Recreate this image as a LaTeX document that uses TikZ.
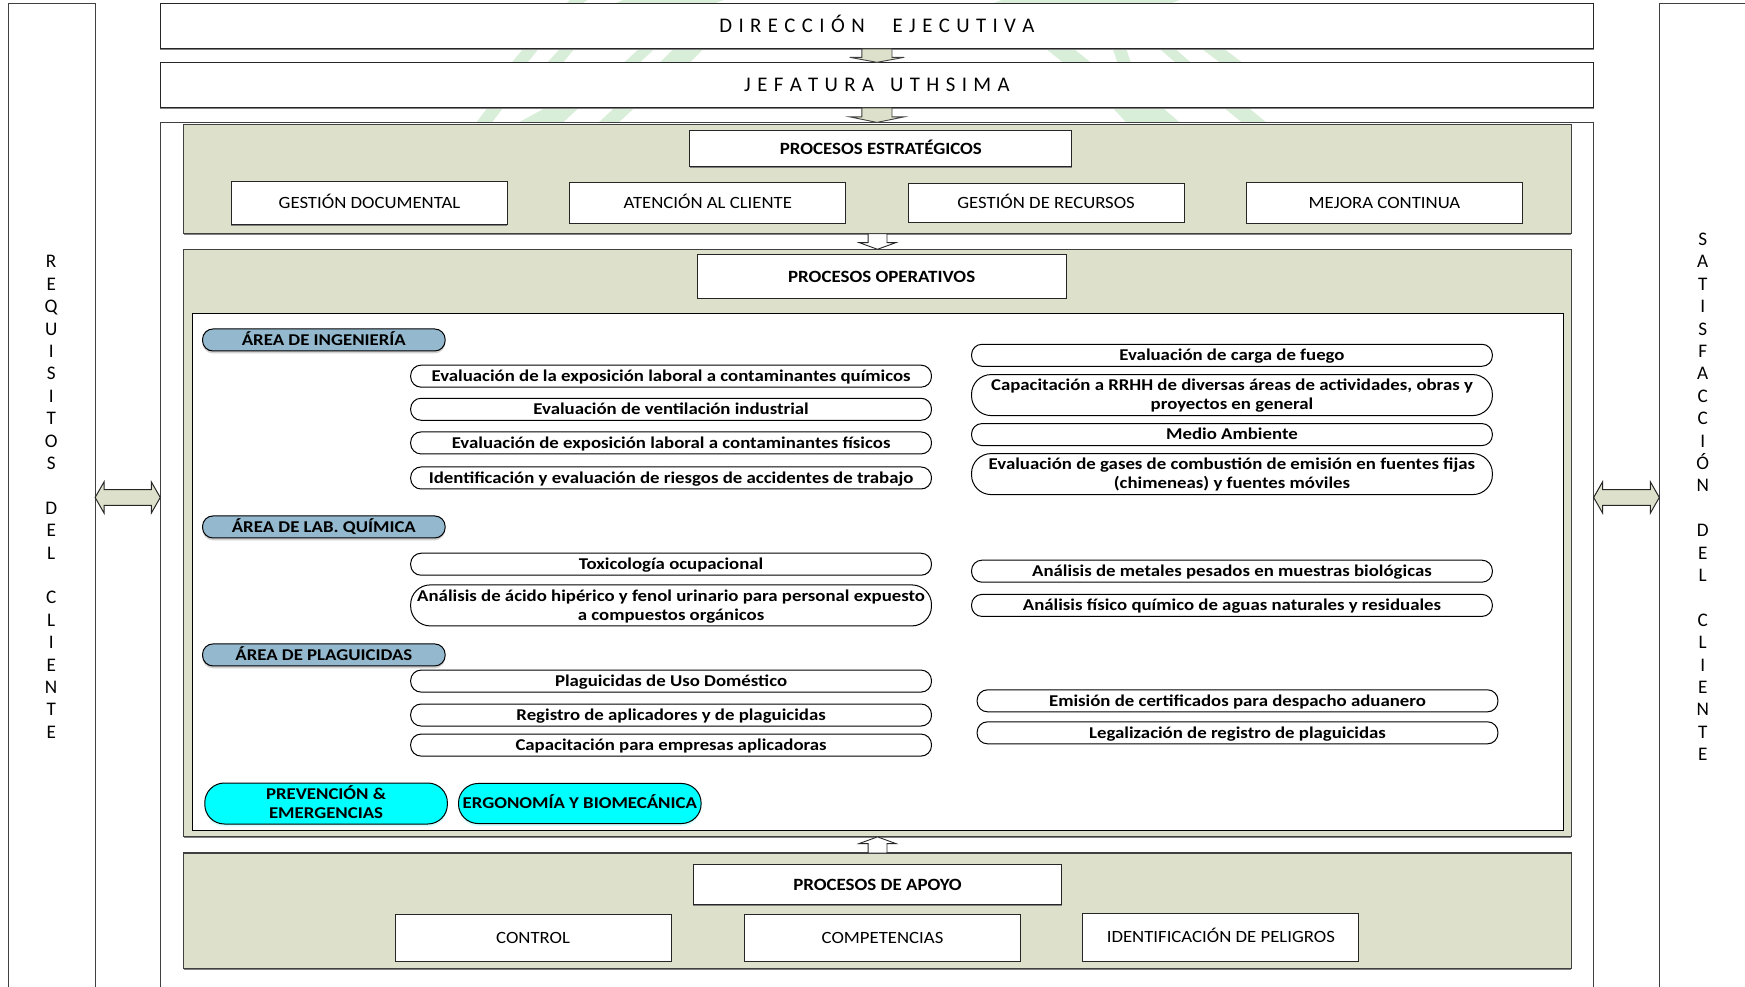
\documentclass[tikz,border=0pt]{standalone}
\usepackage{fontspec}
\setmainfont{Carlito}
\newfontfamily\spacedfont{Carlito}
\newfontfamily\plainfont[FakeStretch=1.09]{Carlito}
\newfontfamily\titlefont[FakeStretch=1.10]{Carlito}
\newfontfamily\pillfont[FakeStretch=1.14]{Carlito}
\usetikzlibrary{calc,shadows}
\definecolor{band}{HTML}{DDE1CB}
\definecolor{areablue}{HTML}{94B9CE}
\definecolor{wm}{HTML}{D9EED9}
\definecolor{aqua}{HTML}{00FFFF}
\newcommand{\ls}{\kern3.2pt\relax}
\newcommand{\place}[7]{\node[#2,minimum width={(#5-#3)*0.5565pt},minimum height={(#6-#4)*0.5565pt}] (#1) at ({(#3+#5)/2},{(#4+#6)/2}) {\rule{0pt}{\dimexpr.7\baselineskip+1.5pt\relax}#7\strut};}
\newcommand{\blockdown}[6]{%
 \coordinate (t) at (#1.south); \coordinate (b) at (#1.south |- #2.north);
 \draw[#6] ($(t)+(-#3,0)$) -- ($(b)+(-#3,-#5)$) -- ($(b)+(-#4,-#5)$) -- (b) -- ($(b)+(#4,-#5)$) -- ($(b)+(#3,-#5)$) -- ($(t)+(#3,0)$) -- cycle;}
\newcommand{\blockup}[6]{%
 \coordinate (t) at (#1.north); \coordinate (b) at (#1.north |- #2.south);
 \draw[#6] ($(t)+(-#3,0)$) -- ($(b)+(-#3,#5)$) -- ($(b)+(-#4,#5)$) -- (b) -- ($(b)+(#4,#5)$) -- ($(b)+(#3,#5)$) -- ($(t)+(#3,0)$) -- cycle;}
\newcommand{\blockboth}[2]{%
 \coordinate (l) at (#1.east |- 0,447); \coordinate (r) at (#2.west |- 0,447);
 \draw[bothways] (l) -- ++(8,-14) -- ++(0,7) -- ($(r)+(-8,-7)$) -- ++(0,-7) -- (r) -- ++(-8,14) -- ++(0,-7) -- ($(l)+(8,7)$) -- ++(0,7) -- cycle;}
\tikzset{
 boxbase/.style={rectangle,inner sep=0pt,outer sep=0pt,align=center,text=black},
 plainbox/.style={boxbase,draw=black!85,line width=0.5pt,fill=white,font=\fontsize{8.6}{10.4}\plainfont,
   general shadow={shadow xshift=0pt,shadow yshift=-0.4pt,fill=black!50}},
 titlebox/.style={plainbox,font=\fontsize{8.6}{10.4}\titlefont\bfseries},
 headbox/.style={plainbox,font=\fontsize{10.4}{12.5}\spacedfont},
 sidebox/.style={boxbase,draw=black!75,line width=0.55pt,fill=white},
 bandbox/.style={boxbase,draw=black!75,line width=0.55pt,fill=band,
   general shadow={shadow xshift=0pt,shadow yshift=-0.7pt,fill=black!50}},
 pill/.style={boxbase,draw=black,line width=0.5pt,fill=white,rounded corners=5.2pt,
   font=\fontsize{8.25}{9.5}\pillfont\bfseries},
 pilltall/.style={pill,rounded corners=9.8pt},
 areapill/.style={pill,fill=areablue,general shadow={shadow xshift=0pt,shadow yshift=-1.2pt,fill=black!18}},
 cyanpill/.style={pill,rounded corners=9.8pt,fill=aqua,general shadow={shadow xshift=0pt,shadow yshift=-1.2pt,fill=aqua!18}},
 thinarrow/.style={draw=black!75,line width=0.45pt,fill=band},
 openarrow/.style={draw=black!85,line width=0.45pt,fill=white},
 bothways/.style={draw=black!85,line width=0.5pt,fill=band},
 letters/.style={inner sep=0pt,align=center,font=\fontsize{9.6}{11.2}\selectfont},
}
\begin{document}
\begin{tikzpicture}[x=0.5565pt,y=-0.5565pt]
\useasboundingbox (0,0) rectangle (1568,886);
\fill[white] (0,0) rectangle (1568,886);
% faint watermark seen through the gaps
\fill[wm] (512,0) -- (528,0) -- (522,4) -- (508,4) -- cycle;
\fill[wm] (560,0) -- (650,0) -- (640,4) -- (550,4) -- cycle;
\fill[wm] (900,0) -- (1060,0) -- (1050,4) -- (890,4) -- cycle;
\fill[wm] (470,44) -- (484,44) -- (474,56) -- (460,56) -- cycle;
\fill[wm] (503,44) -- (516,44) -- (506,56) -- (492,56) -- cycle;
\fill[wm] (574,44) -- (588,44) -- (575,56) -- (561,56) -- cycle;
\fill[wm] (605,44) -- (632,44) -- (620,56) -- (593,56) -- cycle;
\fill[wm] (940,44) -- (965,44) -- (980,56) -- (955,56) -- cycle;
\fill[wm] (1000,44) -- (1012,44) -- (1016,56) -- (1004,56) -- cycle;
\fill[wm] (1042,44) -- (1056,44) -- (1070,56) -- (1056,56) -- cycle;
\fill[wm] (1080,44) -- (1100,44) -- (1116,56) -- (1096,56) -- cycle;
\fill[wm] (438,97) -- (452,97) -- (442,110) -- (428,110) -- cycle;
\fill[wm] (490,97) -- (520,97) -- (506,110) -- (466,110) -- cycle;
\fill[wm] (552,97) -- (570,97) -- (556,110) -- (538,110) -- cycle;
\fill[wm] (1000,97) -- (1045,97) -- (1060,110) -- (1012,110) -- cycle;
\fill[wm] (1100,97) -- (1122,97) -- (1138,110) -- (1116,110) -- cycle;
% frames
\place{leftside}{sidebox}{7.5}{3.5}{85.5}{900}{}
\place{rightside}{sidebox}{1491}{3.5}{1600}{900}{}
\place{outer}{sidebox}{144}{110}{1432}{900}{}
\place{direccion}{headbox}{144}{3.5}{1432}{44}{D\ls I\ls R\ls E\ls C\ls C\ls I\ls Ó\ls N\kern14pt E\ls J\ls E\ls C\ls U\ls T\ls I\ls V\ls A}
\place{jefatura}{headbox}{144}{56}{1432}{97}{J\ls E\ls F\ls A\ls T\ls U\ls R\ls A\kern8pt U\ls T\ls H\ls S\ls I\ls M\ls A}
% strategic
\place{estrat}{bandbox}{165}{112}{1412}{210}{}
\place{pe}{titlebox}{620}{117}{963}{150}{PROCESOS ESTRATÉGICOS}
\place{gdoc}{plainbox}{208}{163}{456}{202}{GESTIÓN DOCUMENTAL}
\place{aten}{plainbox}{512}{164}{760}{201}{ATENCIÓN AL CLIENTE}
\place{grec}{plainbox}{816}{165}{1064}{200}{GESTIÓN DE RECURSOS}
\place{mejora}{plainbox}{1120}{164}{1368}{201}{MEJORA CONTINUA}
% operative
\place{oper}{bandbox}{165}{224}{1412}{752}{}
\place{po}{titlebox}{626.5}{229}{958}{268}{PROCESOS OPERATIVOS}
\place{inner}{boxbase,draw=black,line width=0.55pt,fill=white}{173}{282}{1404.5}{746}{}
\place{ing}{areapill}{182}{296}{400}{315}{ÁREA DE INGENIERÍA}
\place{lab}{areapill}{182}{464}{400}{483}{ÁREA DE LAB. QUÍMICA}
\place{plag}{areapill}{182}{579}{400}{598}{ÁREA DE PLAGUICIDAS}
\place{l1}{pill}{369}{328.5}{837}{347.5}{Evaluación de la exposición laboral a contaminantes químicos}
\place{l2}{pill}{369}{358.5}{837}{377}{Evaluación de ventilación industrial}
\place{l3}{pill}{369}{388.5}{837}{407.5}{Evaluación de exposición laboral a contaminantes físicos}
\place{l4}{pill}{369}{420}{837}{439}{Identificación y evaluación de riesgos de accidentes de trabajo}
\place{l5}{pill}{369}{497.5}{837}{516.5}{Toxicología ocupacional}
\place{l6}{pilltall}{369}{526}{837}{562}{Análisis de ácido hipérico y fenol urinario para personal expuesto\\a compuestos orgánicos}
\place{l7}{pill}{369}{602.5}{837}{621.5}{Plaguicidas de Uso Doméstico}
\place{l8}{pill}{369}{633}{837}{652}{Registro de aplicadores y de plaguicidas}
\place{l9}{pill}{369}{660}{837}{679}{Capacitación para empresas aplicadoras}
\place{r1}{pill}{873}{310}{1341}{328.5}{Evaluación de carga de fuego}
\place{r2}{pilltall}{873}{337}{1341}{373}{Capacitación a RRHH de diversas áreas de actividades, obras y\\proyectos en general}
\place{r3}{pill}{873}{381}{1341}{400}{Medio Ambiente}
\place{r4}{pilltall}{873}{408}{1341}{444}{Evaluación de gases de combustión de emisión en fuentes fijas\\(chimeneas) y fuentes móviles}
\place{r5}{pill}{873}{504}{1341}{522.5}{Análisis de metales pesados en muestras biológicas}
\place{r6}{pill}{873}{534.5}{1341}{553.5}{Análisis físico químico de aguas naturales y residuales}
\place{r7}{pill}{878}{620.5}{1346}{639}{Emisión de certificados para despacho aduanero}
\place{r8}{pill}{878}{649}{1346}{668}{Legalización de registro de plaguicidas}
\place{prev}{cyanpill}{184}{704}{402}{740}{PREVENCIÓN \&\\EMERGENCIAS}
\place{ergo}{cyanpill}{412}{704}{630}{740}{ERGONOMÍA Y BIOMECÁNICA}
% support
\place{apoyo}{bandbox}{165}{766.5}{1412}{870}{}
\place{pa}{titlebox}{623}{777}{954}{813}{PROCESOS DE APOYO}
\place{ctrl}{plainbox}{355}{822}{603}{864}{CONTROL}
\place{comp}{plainbox}{669}{822}{917}{864}{COMPETENCIAS}
\place{iden}{plainbox}{973}{820.5}{1221}{864}{IDENTIFICACIÓN DE PELIGROS}
% side letters
\node[letters] (reqtxt) at (46,446.5) {R\\E\\Q\\U\\I\\S\\I\\T\\O\\S\\[11.2pt]D\\E\\L\\[11.2pt]C\\L\\I\\E\\N\\T\\E};
\node[letters] (sattxt) at (1530,446.5) {S\\A\\T\\I\\S\\F\\A\\C\\C\\I\\Ó\\N\\[11.2pt]D\\E\\L\\[11.2pt]C\\L\\I\\E\\N\\T\\E};
% arrows
\blockdown{direccion}{jefatura}{13.5}{24.5}{4.5}{thinarrow}
\blockdown{jefatura}{outer}{13.5}{24.5}{5}{thinarrow}
\blockdown{estrat}{oper}{8.5}{16.5}{6}{openarrow}
\blockup{apoyo}{oper}{8.5}{16.5}{6}{openarrow}
\blockboth{leftside}{outer}
\blockboth{outer}{rightside}
\end{tikzpicture}
\end{document}
